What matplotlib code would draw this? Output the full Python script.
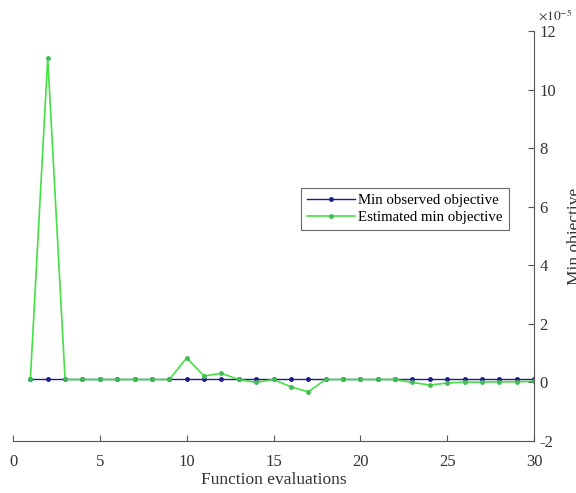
import matplotlib
matplotlib.use("Agg")
import matplotlib.pyplot as plt

evals = list(range(1, 31))
min_observed = [0.1] * 30
estimated_min = [0.1, 11.07, 0.1, 0.1, 0.1, 0.1, 0.1, 0.1, 0.1, 0.84,
                 0.22, 0.31, 0.1, 0.0, 0.1, -0.15, -0.32, 0.1, 0.1, 0.1,
                 0.1, 0.1, 0.0, -0.09, -0.02, 0.01, 0.01, 0.02, 0.02, 0.04]
scale = 1e-5
xticks = [0, 5, 10, 15, 20, 25, 30]
yticks = [-2, 0, 2, 4, 6, 8, 10, 12]

plt.rcParams['font.family'] = ['Liberation Serif', 'DejaVu Serif']
fig = plt.figure(figsize=(5.76, 4.93), dpi=100)
ax = fig.add_axes([13/576, 1 - 441/493, 521/576, 410/493])

blue = '#1c1c8a'
green = '#44e044'
ax.plot(evals, [v * scale for v in min_observed], color=blue, lw=1.0,
        marker='o', ms=2.5, label='Min observed objective')
ax.plot(evals, [v * scale for v in estimated_min], color=green, lw=1.2,
        marker='o', ms=2.5, markerfacecolor='#44bb55', markeredgecolor='#44bb55',
        label='Estimated min objective')

ax.set_xlim(0, 30)
ax.set_ylim(-2e-5, 12e-5)
ax.set_xticks(xticks)
ax.set_yticks([t * scale for t in yticks])
ax.set_yticklabels([str(t) for t in yticks])
ax.yaxis.tick_right()
ax.yaxis.set_label_position('right')
for s in ['top', 'left']:
    ax.spines[s].set_visible(False)
for s in ['bottom', 'right']:
    ax.spines[s].set_color('#555555')
ax.tick_params(direction='in', length=4, color='#555555', labelsize=12,
               labelcolor='#333333', pad=4)
ax.tick_params(axis='x', pad=9)
ax.set_xlabel('Function evaluations', fontsize=12.5, color='#333333', labelpad=2)
ax.set_ylabel('Min objective', fontsize=12.5, color='#333333', labelpad=8)
fig.text(538/576, 1 - 16/493, r'$\times10^{-5}$', fontsize=9.5, color='#333333',
         ha='left', va='center', math_fontfamily='stix')

leg = ax.legend(loc='upper left', bbox_to_anchor=(288/521, (441 - 188)/410),
                fontsize=10.7, frameon=True, fancybox=False, handlelength=3.2,
                borderpad=0.4, labelspacing=0.25, handletextpad=0.25,
                borderaxespad=0)
leg.get_frame().set_edgecolor('#444444')
leg.get_frame().set_linewidth(0.8)

fig.savefig('out.png', dpi=100)
